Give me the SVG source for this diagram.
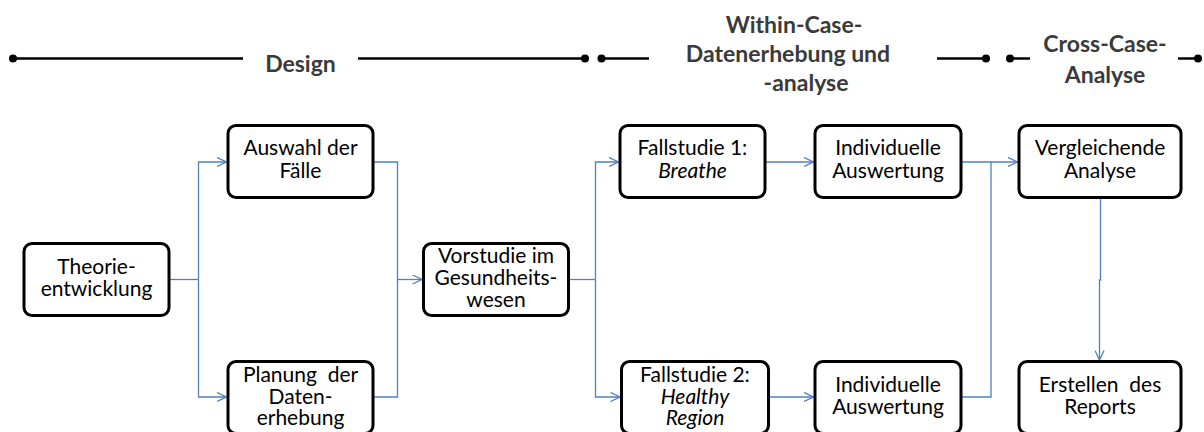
<svg xmlns="http://www.w3.org/2000/svg" width="1204" height="432" viewBox="0 0 1204 432">
  <style>
    .box { fill: #ffffff; stroke: #000000; stroke-width: 3; }
    .lbl { font-family: Lato, "Liberation Sans", sans-serif; font-size: 21px; fill: #000000; text-anchor: middle; }
    .it { font-style: italic; }
    .phase { font-family: Lato, "Liberation Sans", sans-serif; font-size: 23px; font-weight: bold; fill: #3a3a3a; text-anchor: middle; }
    .rule { stroke: #000000; stroke-width: 2.5; fill: none; }
    .dot { fill: #000000; }
    .conn { fill: none; stroke: #4f81bd; stroke-width: 1.3; }
    .arr { fill: none; stroke: #4f81bd; stroke-width: 1.3; marker-end: url(#open); }
  </style>
  <defs>
    <marker id="open" viewBox="0 0 10 10" refX="10" refY="5" markerWidth="10" markerHeight="10" markerUnits="userSpaceOnUse" orient="auto">
      <path d="M0.5,0.5 L10,5 L0.5,9.5" fill="none" stroke="#4f81bd" stroke-width="1.3"/>
    </marker>
  </defs>

  <rect width="1204" height="432" fill="#ffffff"/>

  <!-- phase headers -->
  <g id="phase-design">
    <line class="rule" x1="13" y1="58.5" x2="243" y2="58.5"/>
    <line class="rule" x1="358" y1="58.5" x2="585" y2="58.5"/>
    <circle class="dot" cx="13" cy="58.5" r="4"/>
    <circle class="dot" cx="585" cy="58.5" r="4"/>
    <text class="phase" x="300.5" y="72">Design</text>
  </g>
  <g id="phase-within">
    <line class="rule" x1="601.5" y1="58.5" x2="649" y2="58.5"/>
    <line class="rule" x1="937" y1="58.5" x2="986" y2="58.5"/>
    <circle class="dot" cx="601.5" cy="58.5" r="4"/>
    <circle class="dot" cx="986" cy="58.5" r="4"/>
    <text class="phase" x="794" y="33">Within-Case-</text>
    <text class="phase" x="788" y="62">Datenerhebung und</text>
    <text class="phase" x="806" y="91">-analyse</text>
  </g>
  <g id="phase-cross">
    <line class="rule" x1="1010" y1="58.5" x2="1030" y2="58.5"/>
    <line class="rule" x1="1178" y1="58.5" x2="1198" y2="58.5"/>
    <circle class="dot" cx="1010" cy="58.5" r="4"/>
    <circle class="dot" cx="1198" cy="58.5" r="4"/>
    <text class="phase" x="1105" y="52">Cross-Case-</text>
    <text class="phase" x="1105" y="83">Analyse</text>
  </g>

  <!-- connectors -->
  <g id="connectors">
    <path class="conn" d="M170,279.5 H198.5"/>
    <path class="arr" d="M198.5,279.5 V162 H226.5"/>
    <path class="arr" d="M198.5,279.5 V397 H226.5"/>
    <path class="conn" d="M373,162 H397.5 V397 H373"/>
    <path class="arr" d="M397.5,279.5 H422"/>
    <path class="conn" d="M569,279.5 H595.5"/>
    <path class="arr" d="M595.5,279.5 V162 H618.5"/>
    <path class="arr" d="M595.5,279.5 V397 H620"/>
    <path class="arr" d="M765,162 H813.5"/>
    <path class="arr" d="M768,397 H813.5"/>
    <path class="arr" d="M961,162 H1017.5"/>
    <path class="conn" d="M961,397 H991 V162"/>
    <path class="arr" d="M1100.5,199 V280 H1099.5 V360"/>
  </g>

  <!-- nodes -->
  <g id="theorie">
    <rect class="box" x="24" y="243.5" width="145" height="72" rx="8"/>
    <text class="lbl" x="96.5" y="274">Theorie-</text>
    <text class="lbl" x="96.5" y="296">entwicklung</text>
  </g>
  <g id="auswahl">
    <rect class="box" x="228" y="125.5" width="145" height="72" rx="8"/>
    <text class="lbl" x="300.5" y="155">Auswahl der</text>
    <text class="lbl" x="300.5" y="178">Fälle</text>
  </g>
  <g id="planung">
    <rect class="box" x="228" y="361.5" width="145" height="72" rx="8"/>
    <text class="lbl" x="300.5" y="382" xml:space="preserve">Planung  der</text>
    <text class="lbl" x="300.5" y="403.5">Daten-</text>
    <text class="lbl" x="300.5" y="425">erhebung</text>
  </g>
  <g id="vorstudie">
    <rect class="box" x="423.5" y="243.5" width="145" height="72" rx="8"/>
    <text class="lbl" x="496" y="263">Vorstudie im</text>
    <text class="lbl" x="496" y="285">Gesundheits-</text>
    <text class="lbl" x="496" y="306.5">wesen</text>
  </g>
  <g id="fallstudie1">
    <rect class="box" x="620" y="125.5" width="145" height="72" rx="8"/>
    <text class="lbl" x="692.5" y="155">Fallstudie 1:</text>
    <text class="lbl it" x="692.5" y="178">Breathe</text>
  </g>
  <g id="fallstudie2">
    <rect class="box" x="621.5" y="361.5" width="147" height="72" rx="8"/>
    <text class="lbl" x="695" y="382">Fallstudie 2:</text>
    <text class="lbl it" x="695" y="403.5">Healthy</text>
    <text class="lbl it" x="695" y="425">Region</text>
  </g>
  <g id="auswertung1">
    <rect class="box" x="815" y="125.5" width="146" height="72" rx="8"/>
    <text class="lbl" x="888" y="155">Individuelle</text>
    <text class="lbl" x="888" y="178">Auswertung</text>
  </g>
  <g id="auswertung2">
    <rect class="box" x="815" y="361.5" width="146" height="72" rx="8"/>
    <text class="lbl" x="888" y="391.5">Individuelle</text>
    <text class="lbl" x="888" y="413.5">Auswertung</text>
  </g>
  <g id="vergleich">
    <rect class="box" x="1019" y="125.5" width="162" height="72" rx="8"/>
    <text class="lbl" x="1100" y="155">Vergleichende</text>
    <text class="lbl" x="1100" y="178">Analyse</text>
  </g>
  <g id="report">
    <rect class="box" x="1019" y="361.5" width="162" height="72" rx="8"/>
    <text class="lbl" x="1100" y="391.5" xml:space="preserve">Erstellen  des</text>
    <text class="lbl" x="1100" y="413.5">Reports</text>
  </g>
</svg>
